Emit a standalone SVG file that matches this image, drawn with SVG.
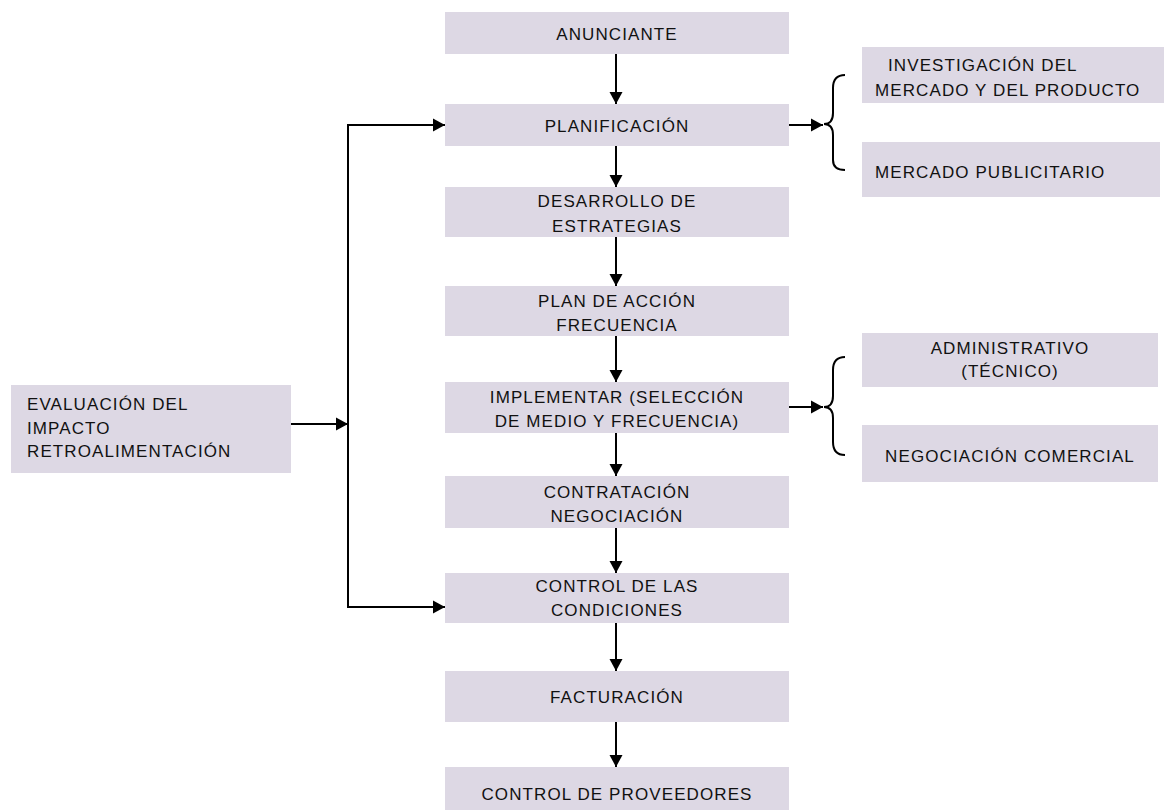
<svg xmlns="http://www.w3.org/2000/svg" width="1164" height="812" viewBox="0 0 1164 812">
  <style>
    .box { fill: #ddd8e4; }
    .t { font-family: "Liberation Sans", Arial, sans-serif; font-size: 17px; letter-spacing: 1.1px; fill: #111; }
    .c { text-anchor: middle; }
    .ln { stroke: #000; stroke-width: 2; fill: none; }
    .arr { stroke: #000; stroke-width: 2; fill: none; marker-end: url(#head); }
  </style>
  <defs>
    <marker id="head" markerUnits="userSpaceOnUse" markerWidth="14" markerHeight="14" refX="12" refY="7" orient="auto">
      <path d="M0,0.5 L12,7 L0,13.5 Z" fill="#000"/>
    </marker>
  </defs>
  <rect width="1164" height="812" fill="#fff"/>

  <!-- main column -->
  <g id="anunciante">
    <rect class="box" x="445" y="12" width="344" height="42"/>
    <text class="t c" x="617" y="39.5">ANUNCIANTE</text>
  </g>
  <g id="planificacion">
    <rect class="box" x="445" y="104" width="344" height="42"/>
    <text class="t c" x="617" y="131.5">PLANIFICACIÓN</text>
  </g>
  <g id="desarrollo">
    <rect class="box" x="445" y="187" width="344" height="50"/>
    <text class="t c" x="617" y="207">DESARROLLO DE</text>
    <text class="t c" x="617" y="231.5">ESTRATEGIAS</text>
  </g>
  <g id="plan-accion">
    <rect class="box" x="445" y="286" width="344" height="50"/>
    <text class="t c" x="617" y="306.5">PLAN DE ACCIÓN</text>
    <text class="t c" x="617" y="331">FRECUENCIA</text>
  </g>
  <g id="implementar">
    <rect class="box" x="445" y="382" width="344" height="51"/>
    <text class="t c" x="617" y="403">IMPLEMENTAR (SELECCIÓN</text>
    <text class="t c" x="617" y="427">DE MEDIO Y FRECUENCIA)</text>
  </g>
  <g id="contratacion">
    <rect class="box" x="445" y="476" width="344" height="52"/>
    <text class="t c" x="617" y="498">CONTRATACIÓN</text>
    <text class="t c" x="617" y="522">NEGOCIACIÓN</text>
  </g>
  <g id="control-condiciones">
    <rect class="box" x="445" y="573" width="344" height="50"/>
    <text class="t c" x="617" y="592">CONTROL DE LAS</text>
    <text class="t c" x="617" y="616">CONDICIONES</text>
  </g>
  <g id="facturacion">
    <rect class="box" x="445" y="671" width="344" height="51"/>
    <text class="t c" x="617" y="703">FACTURACIÓN</text>
  </g>
  <g id="control-proveedores">
    <rect class="box" x="445" y="767" width="344" height="43"/>
    <text class="t c" x="617" y="800">CONTROL DE PROVEEDORES</text>
  </g>

  <!-- feedback source -->
  <g id="evaluacion">
    <rect class="box" x="11" y="385" width="280" height="88"/>
    <text class="t" x="27" y="410">EVALUACIÓN DEL</text>
    <text class="t" x="27" y="433.5">IMPACTO</text>
    <text class="t" x="27" y="457">RETROALIMENTACIÓN</text>
  </g>

  <!-- side branches -->
  <g id="investigacion">
    <rect class="box" x="862" y="47" width="302" height="56"/>
    <text class="t" x="888" y="71">INVESTIGACIÓN DEL</text>
    <text class="t" x="875" y="95.5">MERCADO Y DEL PRODUCTO</text>
  </g>
  <g id="mercado-publicitario">
    <rect class="box" x="862" y="142" width="298" height="55"/>
    <text class="t" x="875" y="178">MERCADO PUBLICITARIO</text>
  </g>
  <g id="administrativo">
    <rect class="box" x="862" y="333" width="296" height="54"/>
    <text class="t c" x="1010" y="353.5">ADMINISTRATIVO</text>
    <text class="t c" x="1010" y="377">(TÉCNICO)</text>
  </g>
  <g id="negociacion-comercial">
    <rect class="box" x="862" y="425" width="296" height="57"/>
    <text class="t c" x="1010" y="462">NEGOCIACIÓN COMERCIAL</text>
  </g>

  <g id="connectors">
    <!-- main flow -->
    <line class="arr" x1="616" y1="54" x2="616" y2="104"/>
    <line class="arr" x1="616" y1="146" x2="616" y2="187"/>
    <line class="arr" x1="616" y1="237" x2="616" y2="286"/>
    <line class="arr" x1="616" y1="336" x2="616" y2="382"/>
    <line class="arr" x1="616" y1="433" x2="616" y2="476"/>
    <line class="arr" x1="616" y1="528" x2="616" y2="573"/>
    <line class="arr" x1="616" y1="623" x2="616" y2="671"/>
    <line class="arr" x1="616" y1="722" x2="616" y2="767"/>

    <!-- feedback loop -->
    <line class="arr" x1="291" y1="424" x2="348" y2="424"/>
    <line class="ln" x1="348" y1="124" x2="348" y2="608"/>
    <line class="arr" x1="347" y1="125" x2="445" y2="125"/>
    <line class="arr" x1="347" y1="607" x2="445" y2="607"/>

    <!-- branches to the right -->
    <line class="arr" x1="789" y1="125" x2="823" y2="125"/>
    <line class="arr" x1="789" y1="407" x2="823" y2="407"/>

    <!-- braces -->
    <path class="ln" d="M845,75 C836,75 833,80 833,88 L833,113 C833,120 830,124 824,124 C830,124 833,128 833,135 L833,160 C833,166 836,170 845,170"/>
    <path class="ln" d="M845,357 C836,357 833,362 833,370 L833,396 C833,403 830,407 824,407 C830,407 833,411 833,418 L833,442 C833,450 836,455 845,455"/>
  </g>
</svg>
